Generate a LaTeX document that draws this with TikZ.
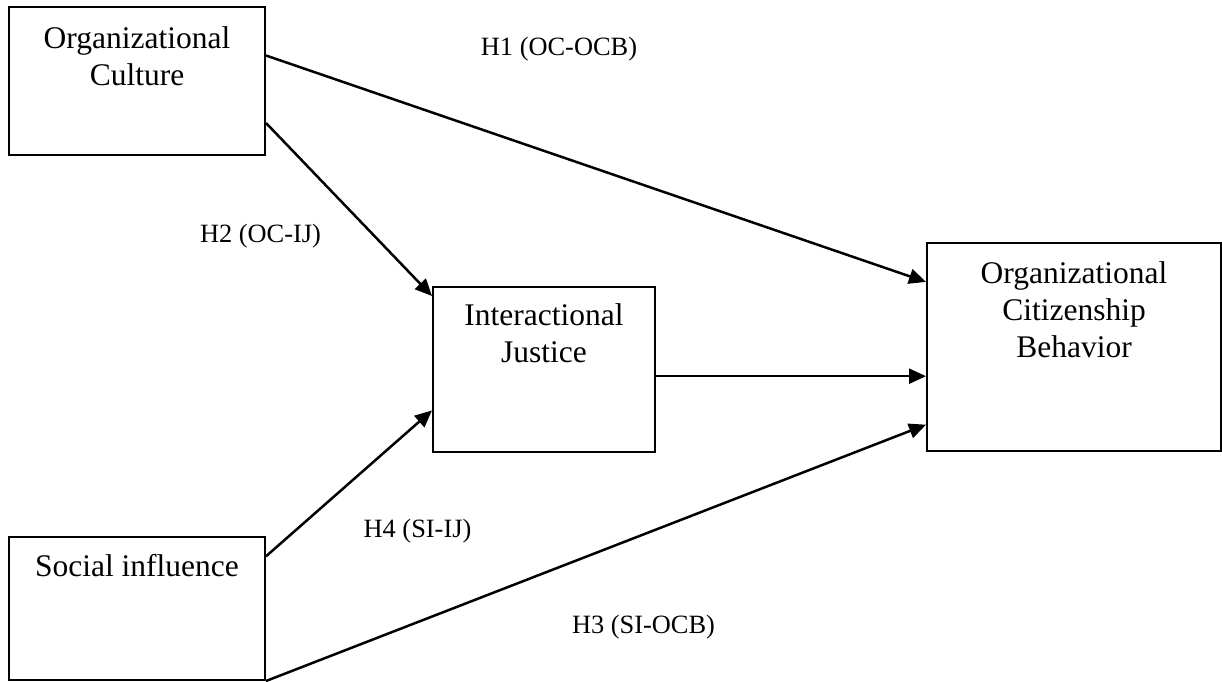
\documentclass[tikz,border=0pt]{standalone}
\usepackage{fontspec}
\setmainfont{Liberation Serif}
\usetikzlibrary{arrows.meta,positioning,calc}

\begin{document}
\begin{tikzpicture}[
    x=1pt, y=-1pt,
    box/.style={draw, line width=2pt, inner sep=0pt},
    boxtext/.style={font=\fontsize{31.5}{37}\selectfont, align=center, inner sep=0pt},
    hyp/.style={font=\fontsize{26.4}{30}\selectfont, inner sep=0pt, anchor=base},
    line/.style={-{Triangle[length=17pt,width=15pt]}, line width=2.5pt},
  ]
    \useasboundingbox (0,0) rectangle (1222,681);

    \node[box, minimum width=256pt, minimum height=148pt] (oc) at (137,81) {};
    \node[boxtext, below=20pt of oc.north] (octext) {Organizational\\Culture};
    \node[box, minimum width=222pt, minimum height=165pt] (ij) at (544,369.5) {};
    \node[boxtext, below=17pt of ij.north] (ijtext) {Interactional\\Justice};
    \node[box, minimum width=294pt, minimum height=208pt] (ocb) at (1074,347) {};
    \node[boxtext, below=19pt of ocb.north] (ocbtext) {Organizational\\Citizenship\\Behavior};
    \node[box, minimum width=256pt, minimum height=143pt] (si) at (137,608.5) {};
    \node[boxtext, below=18pt of si.north] (sitext) {Social influence};

    \node[hyp] (h1) at (559,55) {H1 (OC-OCB)};
    \node[hyp] (h2) at (260.5,242) {H2 (OC-IJ)};
    \node[hyp] (h4) at (417.5,537) {H4 (SI-IJ)};
    \node[hyp] (h3) at (643.5,633) {H3 (SI-OCB)};

    \coordinate (ijout) at ($(ij.north east)!0.54!(ij.south east)$);

    \draw[line] ($(oc.north east)!0.33!(oc.south east)$) -- ($(ocb.north west)!0.19!(ocb.south west)$);
    \draw[line] ($(oc.north east)!0.78!(oc.south east)$) -- ($(ij.north west)!0.06!(ij.south west)$);
    \draw[line] (ijout) -- (ijout -| ocb.west);
    \draw[line] ($(si.north east)!0.14!(si.south east)$) -- ($(ij.north west)!0.745!(ij.south west)$);
    \draw[line] (si.south east) -- ($(ocb.north west)!0.87!(ocb.south west)$);
  \end{tikzpicture}
\end{document}
